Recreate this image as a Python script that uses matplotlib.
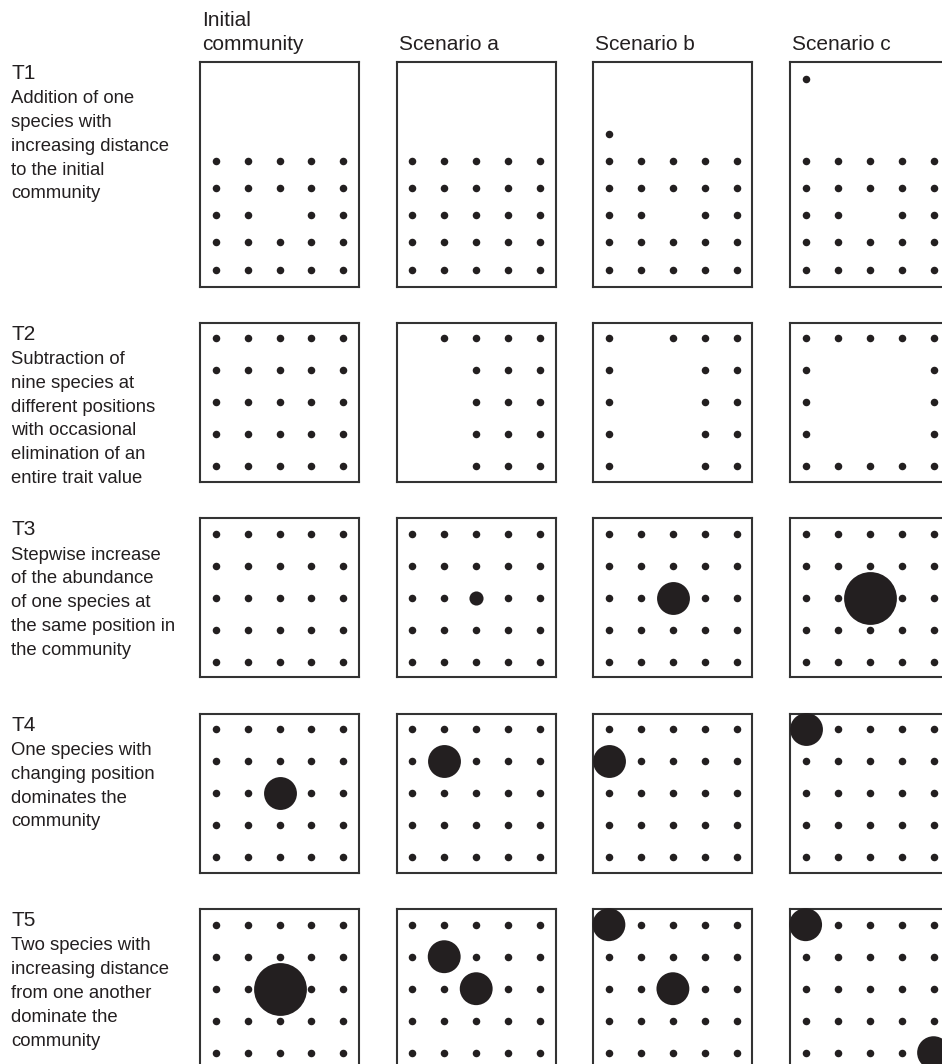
import matplotlib
matplotlib.use("Agg")
import matplotlib.pyplot as plt

W, H = 942, 1064
INK = "#231f20"
plt.rcParams["font.family"] = ["Liberation Sans", "DejaVu Sans"]

col_titles = ["Initial\ncommunity", "Scenario a", "Scenario b", "Scenario c"]
row_titles = ["T1", "T2", "T3", "T4", "T5"]
row_texts = [
    "Addition of one\nspecies with\nincreasing distance\nto the initial\ncommunity",
    "Subtraction of\nnine species at\ndifferent positions\nwith occasional\nelimination of an\nentire trait value",
    "Stepwise increase\nof the abundance\nof one species at\nthe same position in\nthe community",
    "One species with\nchanging position\ndominates the\ncommunity",
    "Two species with\nincreasing distance\nfrom one another\ndominate the\ncommunity",
]

# species missing from the full 5x5 trait grid, (x, y) with y = 4 the top row
removed = [
    [[(2, 2)], [], [(2, 2)], [(2, 2)]],
    [[],
     [(0, 4), (0, 3), (1, 3), (0, 2), (1, 2), (0, 1), (1, 1), (0, 0), (1, 0)],
     [(1, 4), (1, 3), (2, 3), (1, 2), (2, 2), (1, 1), (2, 1), (1, 0), (2, 0)],
     [(1, 3), (2, 3), (3, 3), (1, 2), (2, 2), (3, 2), (1, 1), (2, 1), (3, 1)]],
    [[], [], [], []],
    [[], [], [], []],
    [[], [], [], []],
]

# species added outside the grid (T1 only)
added = [
    [[], [], [(0, 5)], [(0, 7)]],
    [[], [], [], []],
    [[], [], [], []],
    [[], [], [], []],
    [[], [], [], []],
]

# dominant species (x, y, relative abundance)
dominant = [
    [[], [], [], []],
    [[], [], [], []],
    [[], [(2, 2, 3.5)], [(2, 2, 19)], [(2, 2, 49)]],
    [[(2, 2, 19)], [(1, 3, 19)], [(0, 3, 19)], [(0, 4, 19)]],
    [[(2, 2, 49)], [(1, 3, 19), (2, 2, 19)], [(0, 4, 19), (2, 2, 19)],
     [(0, 4, 19), (4, 0, 19)]],
]

GRID = 5
DOT_S = 29.5  # marker area (pt^2) of one unit of abundance

fig = plt.figure(figsize=(W / 100, H / 100), dpi=100)


def px_axes(left, top, w, h):
    return fig.add_axes([left / W, 1 - (top + h) / H, w / W, h / H])


def px_text(x, y, s, size):
    fig.text(x / W, 1 - y / H, s, fontsize=size, color=INK, ha="left", va="baseline")


col_left, col_step, box_w = 200, 196.7, 159
row_top = [62, 322.7, 518.2, 713.7, 909.2]
row_h = [225, 159, 159, 159, 159]

# column headers
for c, title in enumerate(col_titles):
    lines = title.split("\n")
    for k, line in enumerate(reversed(lines)):
        px_text(col_left + c * col_step + 2, 50 - 24 * k, line, 15)

for r in range(len(row_titles)):
    base = row_top[r] + 17
    px_text(11, base, row_titles[r], 15)
    for k, line in enumerate(row_texts[r].split("\n")):
        px_text(11, base + 24.3 + 23.8 * k, line, 13.3)

    for c in range(len(col_titles)):
        ax = px_axes(col_left + c * col_step, row_top[r], box_w, row_h[r])
        ax.set_xlim(-0.485, 4.485)
        if r == 0:
            ax.set_ylim(-0.64, 7.64)
        else:
            ax.set_ylim(-0.485, 4.485)
        ax.set_xticks([])
        ax.set_yticks([])
        for sp in ax.spines.values():
            sp.set_linewidth(1.5)
            sp.set_color("#333333")

        gone = set(removed[r][c])
        big = {(x, y) for x, y, _ in dominant[r][c]}
        pts = [(x, y) for y in range(GRID) for x in range(GRID)
               if (x, y) not in gone and (x, y) not in big]
        pts += added[r][c]
        ax.scatter([p[0] for p in pts], [p[1] for p in pts], s=DOT_S,
                   color=INK, linewidths=0, zorder=3, clip_on=False)
        if dominant[r][c]:
            ax.scatter([d[0] for d in dominant[r][c]], [d[1] for d in dominant[r][c]],
                       s=[DOT_S * d[2] for d in dominant[r][c]],
                       color=INK, linewidths=0, zorder=4, clip_on=False)

fig.savefig("out.png", dpi=100)
